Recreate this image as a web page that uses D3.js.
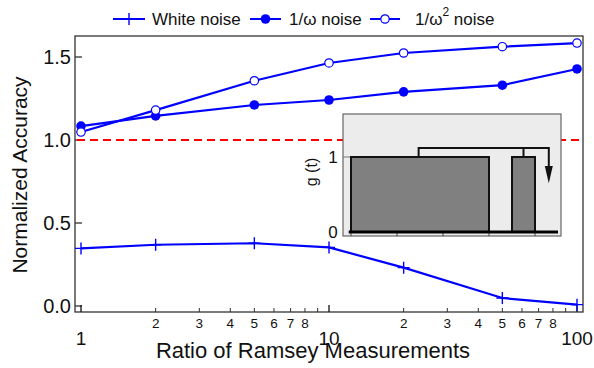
<!DOCTYPE html>
<head>
  <meta charset="utf-8">
  <script src="https://d3js.org/d3.v7.min.js"></script>
  <style>
    body { margin:0; background:white; }
    text { font-family: 'Liberation Sans', Arial, sans-serif; fill: #111; }
  </style>
</head>
<body>
<script>
  // ratio of Ramsey measurements
  const ratios = [1, 2, 5, 10, 20, 50, 100];
  // normalized accuracy for each noise type
  const whiteNoise = [0.347, 0.369, 0.378, 0.353, 0.231, 0.048, 0.008];
  const pinkNoise  = [1.084, 1.145, 1.211, 1.241, 1.290, 1.330, 1.428];
  const brownNoise = [1.048, 1.180, 1.357, 1.464, 1.524, 1.562, 1.584];
  const yTicks = [0, 0.5, 1.0, 1.5];
  const majorX = [1, 10, 100];
  const minorX = [2, 3, 4, 5, 6, 7, 8, 9, 20, 30, 40, 50, 60, 70, 80, 90];
  const minorLabels = [2, 3, 4, 5, 6, 7, 8, 20, 30, 40, 50, 60, 70, 80];

  // inset: control signal g(t), pulses as [start, end]
  const pulses = [[0, 3], [3.5, 4]];
  const insetTicks = [0, 1, 2, 3, 4];

  const W = 594, H = 368;
  const frame = {l: 75, r: 583, t: 36, b: 312};
  const blue = '#0000ff';

  const svg = d3.select('body').append('svg')
    .attr('width', W).attr('height', H);

  const x = d3.scaleLog().domain([1, 100]).range([81, 577]);
  const y = d3.scaleLinear().domain([0, 1.5]).range([306, 57]);

  // frame
  svg.append('rect')
    .attr('x', frame.l).attr('y', frame.t)
    .attr('width', frame.r - frame.l).attr('height', frame.b - frame.t)
    .style('fill', 'none').style('stroke', '#333').style('stroke-width', 1.3);

  // y ticks (inside) and labels
  yTicks.forEach(v => {
    svg.append('line')
      .attr('x1', frame.l).attr('x2', frame.l + 7)
      .attr('y1', y(v)).attr('y2', y(v))
      .style('stroke', '#333').style('stroke-width', 1.3);
    svg.append('text')
      .attr('x', 71).attr('y', y(v)).attr('dy', '0.36em')
      .attr('text-anchor', 'end').style('font-size', '20px')
      .text(d3.format('.1f')(v));
  });

  // x ticks
  majorX.forEach(v => {
    svg.append('line')
      .attr('x1', x(v)).attr('x2', x(v))
      .attr('y1', frame.b).attr('y2', frame.b - 7)
      .style('stroke', '#111').style('stroke-width', 1.3);
    svg.append('text')
      .attr('x', x(v)).attr('y', 345)
      .attr('text-anchor', 'middle').style('font-size', '19px')
      .text(v);
  });
  minorX.forEach(v => {
    svg.append('line')
      .attr('x1', x(v)).attr('x2', x(v))
      .attr('y1', frame.b).attr('y2', frame.b - 4)
      .style('stroke', '#333').style('stroke-width', 1);
  });
  minorLabels.forEach(v => {
    svg.append('text')
      .attr('x', x(v)).attr('y', 328)
      .attr('text-anchor', 'middle').style('font-size', '13.5px')
      .text(String(v)[0]);
  });

  // axis titles
  svg.append('text')
    .attr('x', 313).attr('y', 358)
    .attr('text-anchor', 'middle').style('font-size', '22px')
    .text('Ratio of Ramsey Measurements');
  svg.append('text')
    .attr('transform', 'translate(27,175) rotate(-90)')
    .attr('text-anchor', 'middle').style('font-size', '21px')
    .text('Normalized Accuracy');

  // reference line at 1.0
  svg.append('line')
    .attr('x1', frame.l + 2).attr('x2', frame.r)
    .attr('y1', y(1)).attr('y2', y(1))
    .style('stroke', '#ff0000').style('stroke-width', 2)
    .style('stroke-dasharray', '8,5');

  const line = d3.line().x(d => x(d[0])).y(d => y(d[1]));
  const series = [
    {vals: whiteNoise, marker: 'plus'},
    {vals: pinkNoise, marker: 'filled'},
    {vals: brownNoise, marker: 'open'}
  ];

  function drawMarker(g, type, cx, cy) {
    if (type === 'plus') {
      g.append('path')
        .attr('d', `M${cx - 6},${cy}H${cx + 6}M${cx},${cy - 6}V${cy + 6}`)
        .style('stroke', blue).style('stroke-width', 1.4);
    } else if (type === 'filled') {
      g.append('circle').attr('cx', cx).attr('cy', cy).attr('r', 4.8)
        .style('fill', blue);
    } else {
      g.append('circle').attr('cx', cx).attr('cy', cy).attr('r', 4.2)
        .style('fill', 'white').style('stroke', blue).style('stroke-width', 1.2);
    }
  }

  series.forEach(s => {
    const pts = ratios.map((r, i) => [r, s.vals[i]]);
    svg.append('path').datum(pts)
      .attr('d', line)
      .style('fill', 'none').style('stroke', blue).style('stroke-width', 2.2);
    const g = svg.append('g');
    pts.forEach(p => drawMarker(g, s.marker, x(p[0]), y(p[1])));
  });

  // legend
  const legend = svg.append('g');
  const legendItems = [
    {x0: 113, x1: 145, tx: 152, marker: 'plus', label: 'White noise'},
    {x0: 250, x1: 281, tx: 289, marker: 'filled', label: '1/ω noise'},
    {x0: 370, x1: 400, tx: 415, marker: 'open', label: '1/ω2 noise'}
  ];
  legendItems.forEach((d, i) => {
    legend.append('line')
      .attr('x1', d.x0).attr('x2', d.x1).attr('y1', 19).attr('y2', 19)
      .style('stroke', blue).style('stroke-width', 2);
    drawMarker(legend, d.marker, (d.x0 + d.x1) / 2, 19);
    const t = legend.append('text')
      .attr('x', d.tx).attr('y', 25).style('font-size', '17px');
    if (i === 2) {
      t.append('tspan').text('1/ω');
      t.append('tspan').attr('dy', -9).style('font-size', '12px').text('2');
      t.append('tspan').attr('dy', 9).text(' noise');
    } else {
      t.text(d.label);
    }
  });

  // inset g(t)
  const ix = d3.scaleLinear().domain([0, 1]).range([351, 397]);
  const iy = d3.scaleLinear().domain([0, 1]).range([232, 157]);
  const inset = svg.append('g');

  inset.append('rect')
    .attr('x', 343).attr('y', 114).attr('width', 218).attr('height', 122)
    .style('fill', '#ececec').style('stroke', '#666').style('stroke-width', 1.2);

  inset.append('line')
    .attr('x1', 343).attr('x2', 351).attr('y1', iy(1)).attr('y2', iy(1))
    .style('stroke', '#777').style('stroke-width', 1);

  insetTicks.forEach(v => {
    inset.append('line')
      .attr('x1', ix(v)).attr('x2', ix(v)).attr('y1', iy(0)).attr('y2', iy(0) + 4)
      .style('stroke', '#444').style('stroke-width', 1);
  });

  pulses.forEach(p => {
    inset.append('rect')
      .attr('x', ix(p[0])).attr('y', iy(1))
      .attr('width', ix(p[1]) - ix(p[0])).attr('height', iy(0) - iy(1))
      .style('fill', '#808080').style('stroke', '#111').style('stroke-width', 2);
  });

  inset.append('line')
    .attr('x1', ix(-0.05)).attr('x2', ix(4.5)).attr('y1', iy(0)).attr('y2', iy(0))
    .style('stroke', '#000').style('stroke-width', 3);

  // bracket arrow
  const bx0 = ix(1.47), bx1 = ix(3.75), bx2 = ix(4.3);
  const by = iy(1.12);
  inset.append('path')
    .attr('d', `M${bx0},${iy(1)}V${by}H${bx2}V${iy(0.78)}M${bx1},${by}V${iy(1)}`)
    .style('fill', 'none').style('stroke', '#111').style('stroke-width', 2);
  inset.append('path')
    .attr('d', `M${bx2 - 4},${iy(0.88)}L${bx2 + 4},${iy(0.88)}L${bx2},${iy(0.65)}Z`)
    .style('fill', '#111');

  inset.append('text')
    .attr('x', 333).attr('y', iy(1)).attr('dy', '0.36em')
    .attr('text-anchor', 'middle').style('font-size', '17px').text('1');
  inset.append('text')
    .attr('x', 333).attr('y', iy(0)).attr('dy', '0.36em')
    .attr('text-anchor', 'middle').style('font-size', '17px').text('0');
  inset.append('text')
    .attr('transform', `translate(317,${iy(0.8)}) rotate(-90)`)
    .attr('text-anchor', 'middle').style('font-size', '16px').text('g (t)');
</script>
</body>
